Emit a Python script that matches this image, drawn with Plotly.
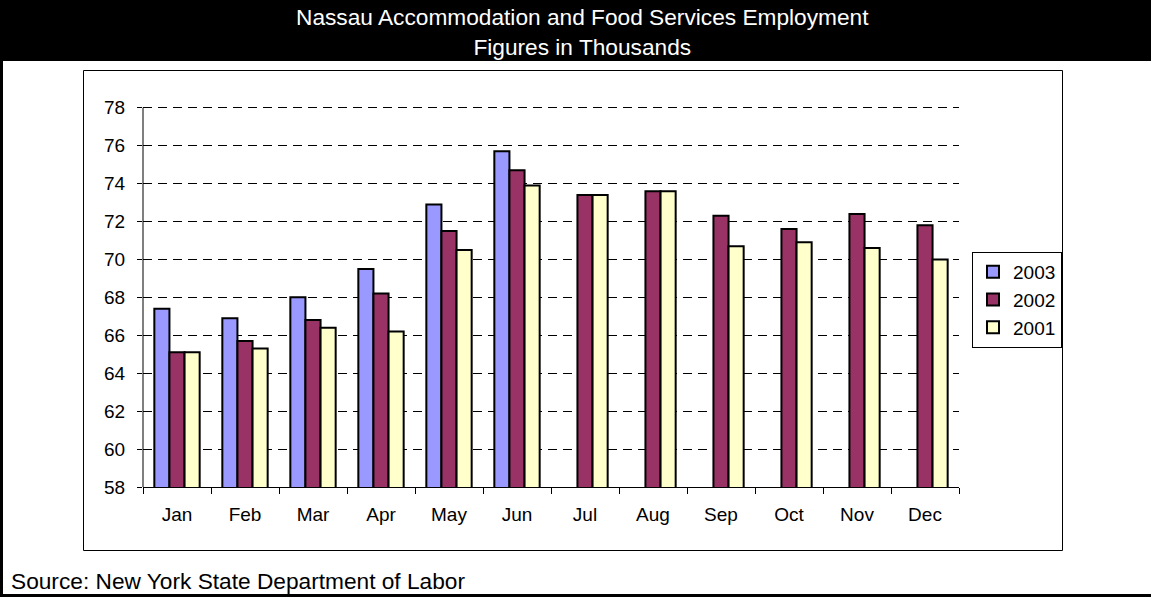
import plotly.graph_objects as go

months = ["Jan", "Feb", "Mar", "Apr", "May", "Jun", "Jul", "Aug", "Sep", "Oct", "Nov", "Dec"]
y2003 = [67.4, 66.9, 68.0, 69.5, 72.9, 75.7, None, None, None, None, None, None]
y2002 = [65.1, 65.7, 66.8, 68.2, 71.5, 74.7, 73.4, 73.6, 72.3, 71.6, 72.4, 71.8]
y2001 = [65.1, 65.3, 66.4, 66.2, 70.5, 73.9, 73.4, 73.6, 70.7, 70.9, 70.6, 70.0]
y_ticks = list(range(58, 80, 2))
y_min, y_max = 58, 78

W, H = 1151, 597
ML, MR, MT, MB = 143, 192, 102, 110
PW, PH = W - ML - MR, H - MT - MB

def fx(px):
    return (px - ML) / PW

def fy(py):
    return (H - MB - py) / PH

FONT = "Liberation Sans, Arial, sans-serif"

fig = go.Figure()
for name, vals, col in [("2003", y2003, "#9999FF"), ("2002", y2002, "#993366"), ("2001", y2001, "#FFFFCC")]:
    fig.add_trace(go.Bar(
        x=months, y=vals, name=name,
        marker=dict(color=col, line=dict(color="black", width=2)),
    ))

shapes = [
    dict(type="rect", xref="paper", yref="paper", x0=fx(0), x1=fx(W), y0=fy(61), y1=fy(0),
         fillcolor="black", line=dict(width=0), layer="below"),
    dict(type="rect", xref="paper", yref="paper", x0=fx(0), x1=fx(3), y0=fy(597), y1=fy(0),
         fillcolor="black", line=dict(width=0), layer="below"),
    dict(type="rect", xref="paper", yref="paper", x0=fx(0), x1=fx(W), y0=fy(597), y1=fy(594),
         fillcolor="black", line=dict(width=0), layer="below"),
    dict(type="rect", xref="paper", yref="paper", x0=fx(83.5), x1=fx(1062.5), y0=fy(550.5), y1=fy(70.5),
         fillcolor="rgba(0,0,0,0)", line=dict(color="black", width=1), layer="below"),
    # y axis line from min to max only
    dict(type="line", xref="paper", yref="y", x0=0, x1=0, y0=y_min, y1=y_max,
         line=dict(color="black", width=1), layer="above"),
]

annotations = [
    dict(text="Nassau Accommodation and Food Services Employment<br>Figures in Thousands",
         xref="paper", yref="paper", x=fx(582), y=fy(32), xanchor="center", yanchor="middle",
         showarrow=False, font=dict(family=FONT, size=22.7, color="white"), align="center"),
    dict(text="Source: New York State Department of Labor",
         xref="paper", yref="paper", x=fx(9), y=fy(581), xanchor="left", yanchor="middle",
         showarrow=False, font=dict(family=FONT, size=22.7, color="black")),
]

fig.update_layout(
    width=W, height=H,
    margin=dict(l=ML, r=MR, t=MT, b=MB, pad=0),
    paper_bgcolor="white", plot_bgcolor="white",
    barmode="group", bargap=1.5 / 4.5, bargroupgap=0,
    font=dict(family=FONT, size=19, color="black"),
    shapes=shapes, annotations=annotations,
    legend=dict(x=fx(972), y=fy(252), xanchor="left", yanchor="top",
                bordercolor="black", borderwidth=1, bgcolor="white",
                font=dict(family=FONT, size=19, color="black"), traceorder="normal"),
    xaxis=dict(showline=True, linecolor="black", linewidth=1, ticks="outside", ticklen=6,
               tickcolor="black", tickson="boundaries", showgrid=False,
               tickfont=dict(family=FONT, size=19, color="black"), ticklabelstandoff=10),
    yaxis=dict(range=[y_min, 78.3], tickvals=y_ticks, showline=False,
               ticks="outside", ticklen=5, tickcolor="black", showgrid=True,
               gridcolor="black", gridwidth=1, griddash="9px,6px", zeroline=False,
               tickfont=dict(family=FONT, size=19, color="black"), ticklabelstandoff=8),
)

fig.write_html("out.html")
